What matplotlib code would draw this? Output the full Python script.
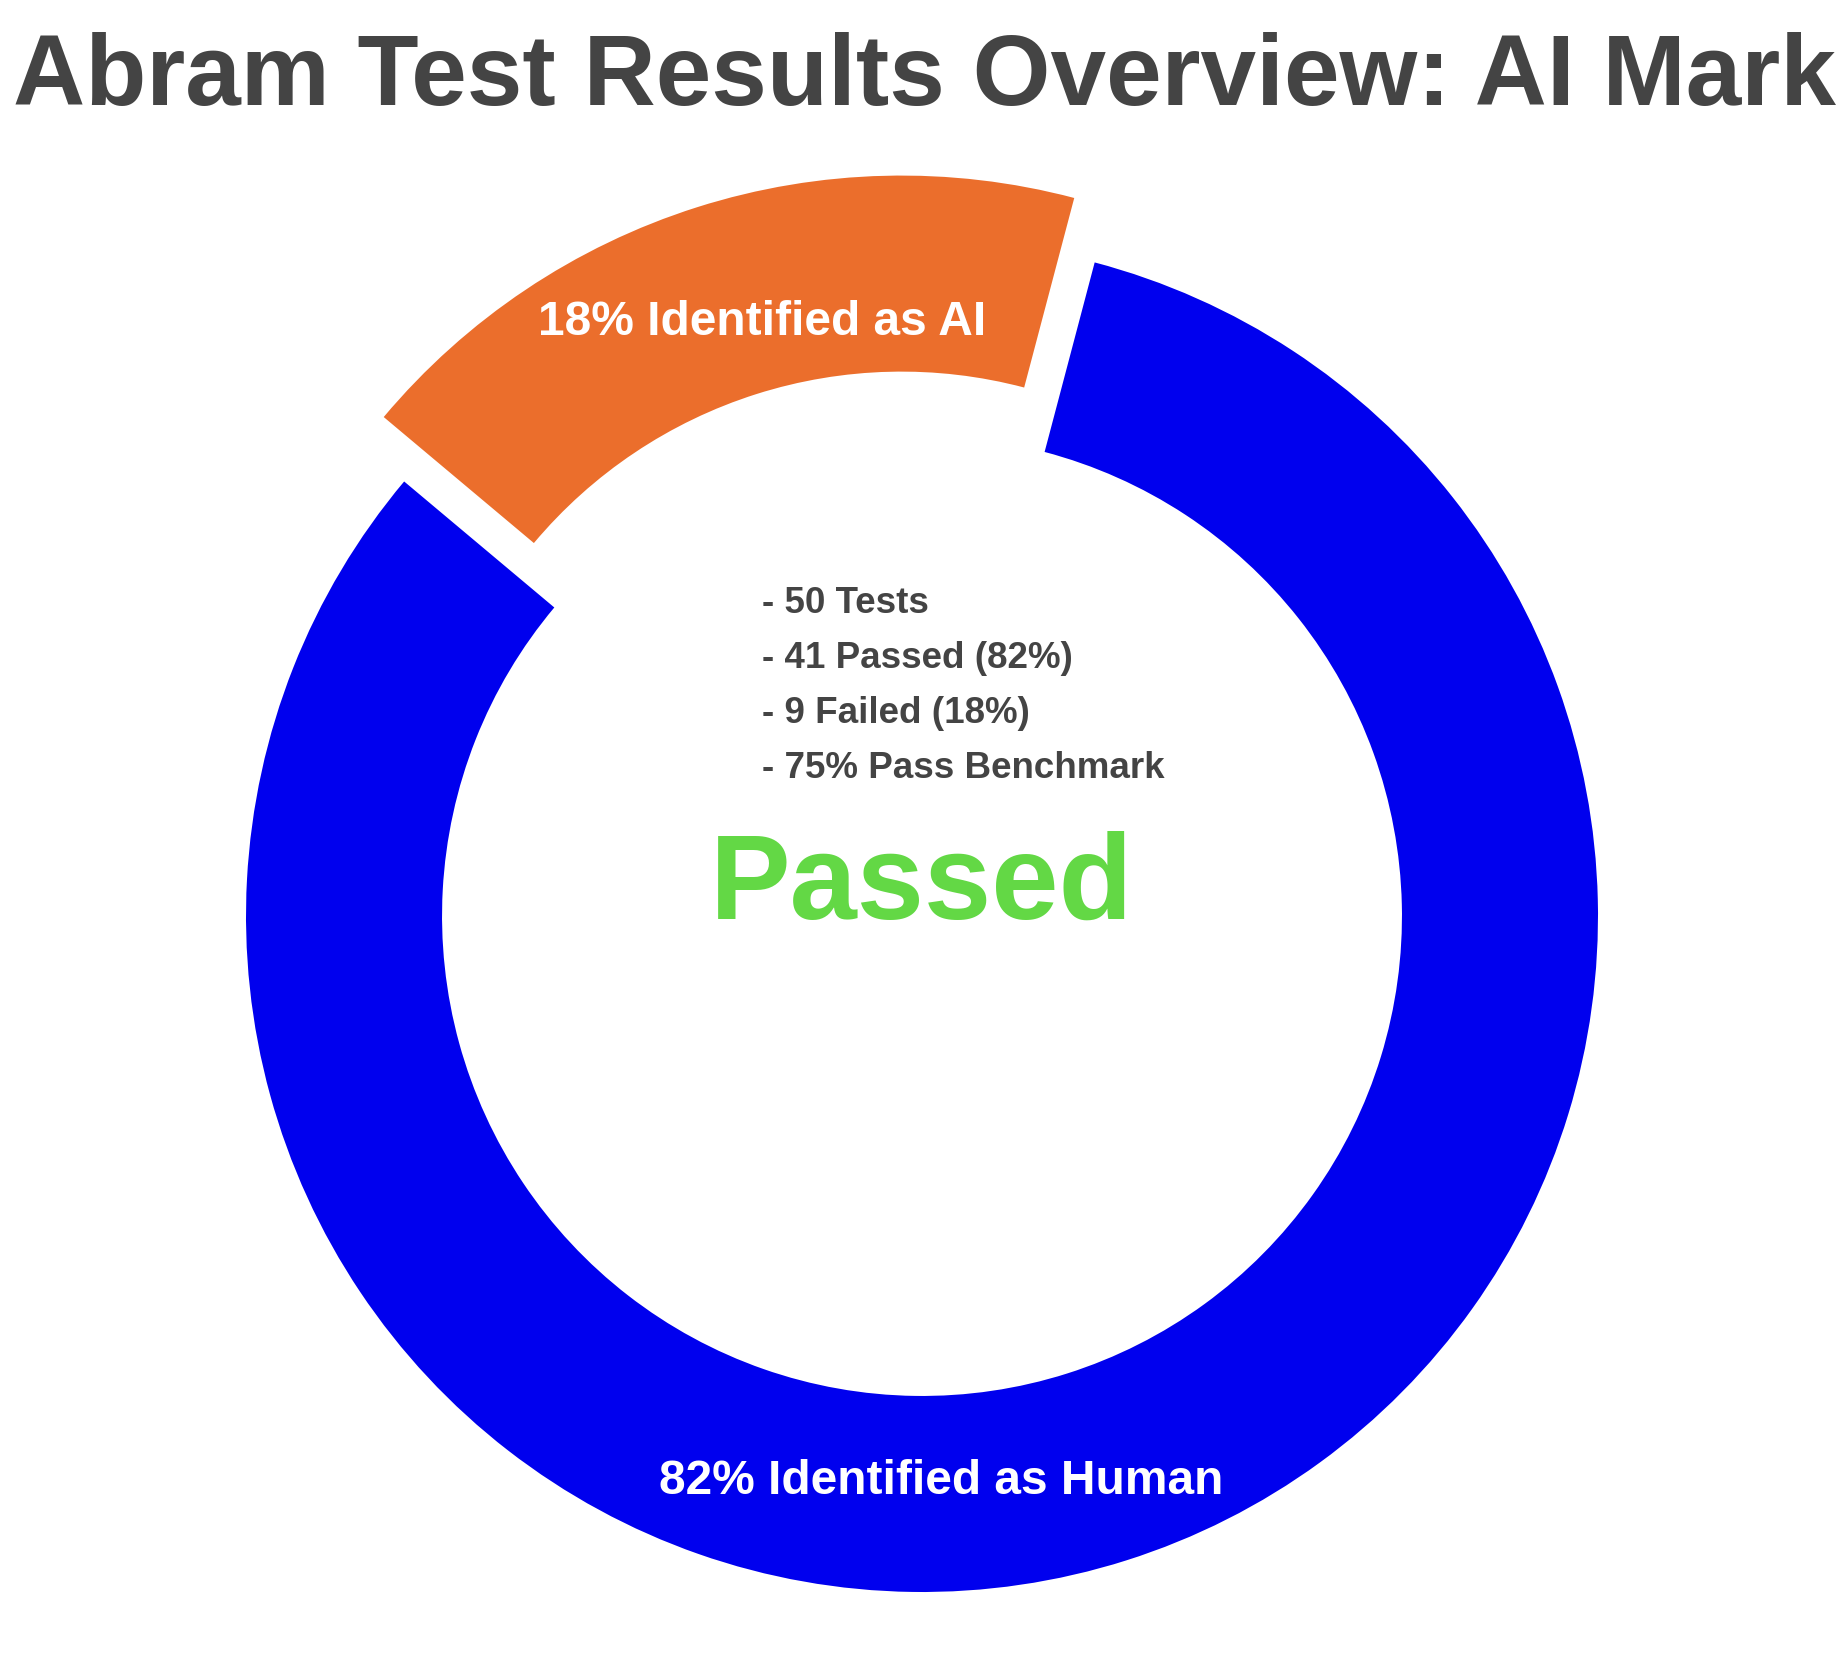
import matplotlib
matplotlib.use("Agg")
import matplotlib.pyplot as plt

# data
labels = ["82% Identified as Human", "18% Identified as AI"]
shares = [82, 18]
colors = ["#0000ee", "#eb6e2c"]
explode = [0, 0.1]
summary_lines = ["- 50 Tests", "- 41 Passed (82%)", "- 9 Failed (18%)", "- 75% Pass Benchmark"]
verdict = "Passed"
title = "Abram Test Results Overview: AI Mark"

plt.rcParams["font.family"] = ["Liberation Sans", "DejaVu Sans"]

W, H = 1848, 1658
cx, cy, R = 922, 917, 676  # pie centre and radius in pixels

fig = plt.figure(figsize=(W / 100, H / 100), dpi=100)
ax = fig.add_axes([0, 0, 1, 1])

ax.pie(shares, colors=colors, explode=explode, startangle=75.2,
       counterclock=False, radius=1.0,
       wedgeprops=dict(width=0.29, linewidth=0))

ax.set_xlim(-cx / R, (W - cx) / R)
ax.set_ylim(-(H - cy) / R, cy / R)
ax.set_aspect("equal")
ax.axis("off")

# slice labels
ax.text(0.028, -0.854, labels[0], ha="center", va="baseline",
        fontsize=34.5, fontweight="bold", color="white")
ax.text(-0.237, 0.861, labels[1], ha="center", va="baseline",
        fontsize=34.5, fontweight="bold", color="white")

# summary in the hole
for i, line in enumerate(summary_lines):
    ax.text(-0.237, 0.450 - i * 0.0816, line, ha="left", va="baseline",
            fontsize=26.5, fontweight="bold", color="#444444")

ax.text(-0.001, -0.003, verdict, ha="center", va="baseline",
        fontsize=87, fontweight="bold", color="#63d845")

fig.text(0.5, 1 - 105 / H, title, ha="center", va="baseline",
         fontsize=72, fontweight="bold", color="#444444")

fig.savefig("out.png", dpi=100)
